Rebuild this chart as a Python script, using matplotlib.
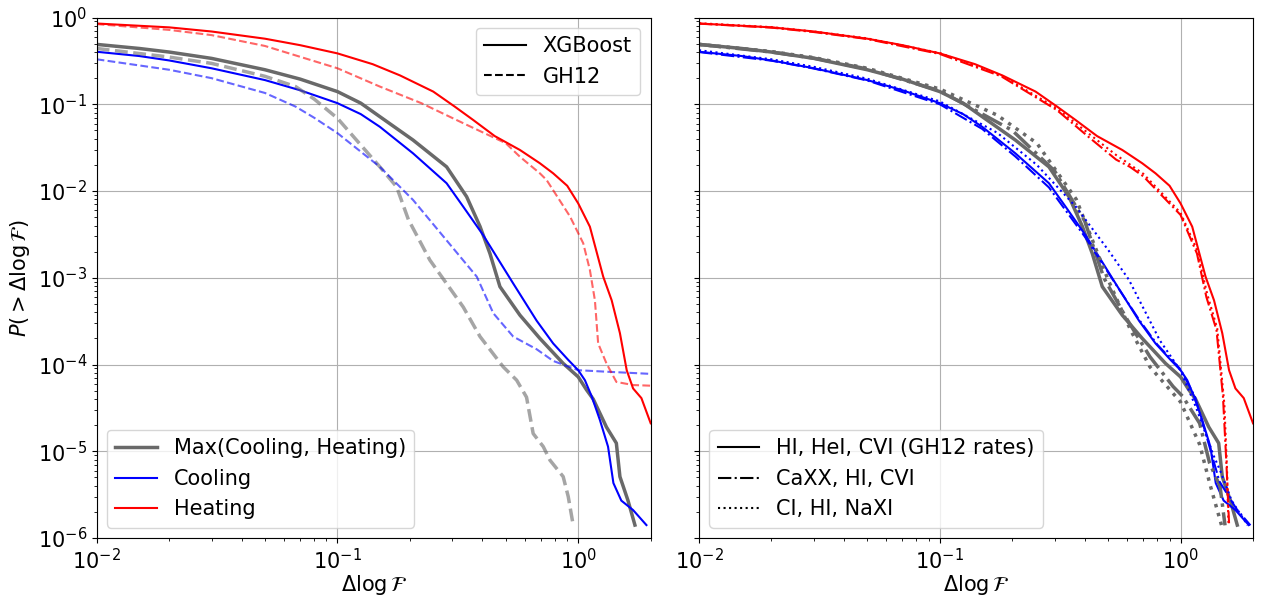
import matplotlib
matplotlib.use("Agg")
import matplotlib.pyplot as plt
from matplotlib.lines import Line2D

# ---- data ----
# XGBoost (solid), shared by both panels
max_xgb_x = [0.01, 0.015, 0.02, 0.03, 0.05, 0.07, 0.1, 0.125, 0.15, 0.206, 0.284, 0.344, 0.391, 0.43, 0.473,
             0.573, 0.693, 0.866, 1.0, 1.083, 1.154, 1.31, 1.44, 1.49, 1.61, 1.72]
max_xgb_y = [0.49, 0.44, 0.40, 0.338, 0.25, 0.195, 0.14, 0.103, 0.072, 0.0387, 0.019, 0.0086, 0.0039, 0.0019,
             7.9e-4, 3.7e-4, 2.0e-4, 1.03e-4, 7.2e-5, 5.1e-5, 4.0e-5, 1.9e-5, 1.24e-5, 5.1e-6, 2.7e-6, 1.41e-6]

cool_xgb_x = [0.01, 0.015, 0.02, 0.03, 0.05, 0.07, 0.1, 0.125, 0.15, 0.206, 0.284, 0.333, 0.403, 0.537, 0.672,
              0.787, 0.909, 1.0, 1.066, 1.137, 1.23, 1.33, 1.40, 1.51, 1.69, 1.92]
cool_xgb_y = [0.403, 0.36, 0.32, 0.26, 0.19, 0.145, 0.103, 0.077, 0.055, 0.0272, 0.0123, 0.0066, 0.0031, 8.6e-4,
              3.2e-4, 1.75e-4, 1.13e-4, 8.6e-5, 6.6e-5, 4.3e-5, 2.3e-5, 1.13e-5, 4.3e-6, 2.7e-6, 2.1e-6, 1.41e-6]

heat_xgb_x = [0.01, 0.02, 0.03, 0.05, 0.07, 0.1, 0.14, 0.182, 0.25, 0.307, 0.366, 0.45, 0.573, 0.693,
              0.787, 0.9, 1.0, 1.118, 1.27, 1.377, 1.49, 1.59, 1.69, 1.83, 2.0]
heat_xgb_y = [0.853, 0.77, 0.69, 0.57, 0.48, 0.386, 0.29, 0.215, 0.14, 0.094, 0.066, 0.043, 0.0297, 0.0209,
              0.016, 0.0115, 0.0072, 0.00388, 0.00103, 5.5e-4, 2.3e-4, 8.6e-5, 5.3e-5, 4.1e-5, 2.1e-5]

# GH12 (dashed), left panel
max_gh_x = [0.01, 0.02, 0.03, 0.05, 0.067, 0.08, 0.1, 0.15, 0.176, 0.197, 0.242, 0.333, 0.391, 0.488,
            0.555, 0.61, 0.65, 0.716, 0.763, 0.866, 0.909, 0.953]
max_gh_y = [0.44, 0.35, 0.296, 0.21, 0.16, 0.115, 0.069, 0.019, 0.0112, 0.0047, 0.0016, 4.6e-4, 2.1e-4, 9.4e-5,
            6.6e-5, 4.2e-5, 1.6e-5, 1.13e-5, 7.9e-6, 5.1e-6, 3.0e-6, 1.41e-6]

cool_gh_x = [0.01, 0.02, 0.03, 0.05, 0.067, 0.08, 0.1, 0.15, 0.206, 0.284, 0.379, 0.444, 0.537, 0.672, 0.787,
             1.0, 1.27, 2.0]
cool_gh_y = [0.33, 0.25, 0.2, 0.135, 0.094, 0.07, 0.0465, 0.019, 0.0079, 0.0027, 0.00103, 3.9e-4, 2.1e-4, 1.5e-4,
             1.1e-4, 8.6e-5, 8.3e-5, 7.8e-5]

heat_gh_x = [0.01, 0.02, 0.03, 0.05, 0.1, 0.15, 0.223, 0.333, 0.5, 0.573, 0.693, 0.739, 0.924, 1.049,
             1.118, 1.173, 1.21, 1.31, 1.44, 1.69, 2.0]
heat_gh_y = [0.84, 0.72, 0.627, 0.47, 0.26, 0.16, 0.103, 0.0605, 0.0356, 0.0248, 0.016, 0.0134, 0.0051, 0.0025,
             0.00123, 5.5e-4, 1.75e-4, 1.03e-4, 6.3e-5, 5.8e-5, 5.7e-5]

# right panel: CaXX, HI, CVI (dashdot)
max_ca_x = [0.01, 0.02, 0.03, 0.05, 0.1, 0.2, 0.3, 0.4, 0.48, 0.6, 0.746, 0.93, 1.02, 1.2, 1.32, 1.46, 1.53]
max_ca_y = [0.49, 0.40, 0.34, 0.255, 0.143, 0.05, 0.017, 0.0045, 0.001, 3.3e-4, 1.23e-4, 5.6e-5, 4.3e-5,
            2.1e-5, 7.3e-6, 3.9e-6, 1.4e-6]
cool_ca_x = [0.01, 0.02, 0.03, 0.05, 0.1, 0.15, 0.206, 0.284, 0.333, 0.403, 0.537, 0.672, 0.8, 1.0, 1.15,
             1.3, 1.45, 1.7, 1.95]
cool_ca_y = [0.40, 0.318, 0.258, 0.188, 0.1, 0.052, 0.025, 0.011, 0.006, 0.0029, 8.5e-4, 3.3e-4, 1.7e-4,
             8.8e-5, 4.2e-5, 1.3e-5, 4.5e-6, 2.2e-6, 1.4e-6]
heat_ca_x = [0.01, 0.02, 0.03, 0.05, 0.1, 0.18, 0.306, 0.415, 0.54, 0.616, 0.70, 1.0, 1.17, 1.28, 1.41,
             1.50, 1.55, 1.59]
heat_ca_y = [0.85, 0.765, 0.68, 0.565, 0.38, 0.21, 0.086, 0.042, 0.023, 0.019, 0.0148, 0.0053, 0.0019,
             6.0e-4, 2.5e-4, 4.3e-5, 7.3e-6, 1.48e-6]

# right panel: CI, HI, NaXI (dotted)
max_na_x = [0.01, 0.02, 0.03, 0.05, 0.1, 0.173, 0.253, 0.369, 0.50, 0.62, 0.746, 1.0, 1.2, 1.33, 1.48]
max_na_y = [0.49, 0.405, 0.345, 0.26, 0.15, 0.075, 0.0356, 0.008, 9.5e-4, 2.5e-4, 9.4e-5, 3.7e-5, 1.2e-5,
            4e-6, 1.4e-6]
cool_na_x = [0.01, 0.02, 0.03, 0.05, 0.1, 0.173, 0.253, 0.369, 0.5, 0.61, 0.82, 1.0, 1.16, 1.37, 1.46,
             1.63, 1.9]
cool_na_y = [0.42, 0.33, 0.27, 0.197, 0.108, 0.047, 0.02, 0.0065, 0.0021, 9.5e-4, 1.9e-4, 8.5e-5, 3.2e-5,
             9e-6, 6.0e-6, 2.7e-6, 1.4e-6]
heat_na_x = [0.01, 0.02, 0.03, 0.05, 0.1, 0.18, 0.306, 0.415, 0.54, 0.70, 1.0, 1.17, 1.29, 1.42, 1.52,
             1.56, 1.58]
heat_na_y = [0.86, 0.775, 0.69, 0.575, 0.39, 0.215, 0.09, 0.046, 0.026, 0.0158, 0.0056, 0.0021, 6.5e-4,
             2.6e-4, 3.5e-5, 6e-6, 1.5e-6]

labels_left = ["Max(Cooling, Heating)", "Cooling", "Heating"]
labels_right = ["HI, HeI, CVI (GH12 rates)", "CaXX, HI, CVI", "CI, HI, NaXI"]

plt.rcParams['font.size'] = 15

fig, (ax1, ax2) = plt.subplots(1, 2, figsize=(12.62, 5.98), dpi=100, sharey=True)
fig.subplots_adjust(left=0.0766, right=0.9929, bottom=0.1003, top=0.9707, wspace=0.0872)

gray = 'dimgray'

# left panel
ax1.plot(max_xgb_x, max_xgb_y, color=gray, lw=2.5)
ax1.plot(cool_xgb_x, cool_xgb_y, color='blue', lw=1.5)
ax1.plot(heat_xgb_x, heat_xgb_y, color='red', lw=1.5)
ax1.plot(max_gh_x, max_gh_y, color=gray, lw=2.5, ls='--', alpha=0.6)
ax1.plot(cool_gh_x, cool_gh_y, color='blue', lw=1.5, ls='--', alpha=0.6)
ax1.plot(heat_gh_x, heat_gh_y, color='red', lw=1.5, ls='--', alpha=0.6)

h_col = [Line2D([], [], color=gray, lw=2.5),
         Line2D([], [], color='blue', lw=1.5),
         Line2D([], [], color='red', lw=1.5)]
leg1 = ax1.legend(h_col, labels_left, loc='lower left', fontsize=15)
ax1.add_artist(leg1)
h_sty = [Line2D([], [], color='k', lw=1.5), Line2D([], [], color='k', lw=1.5, ls='--')]
ax1.legend(h_sty, ["XGBoost", "GH12"], loc='upper right', fontsize=15)

# right panel
for xs, ys, c, lw in [(max_xgb_x, max_xgb_y, gray, 2.5), (cool_xgb_x, cool_xgb_y, 'blue', 1.5),
                      (heat_xgb_x, heat_xgb_y, 'red', 1.5)]:
    ax2.plot(xs, ys, color=c, lw=lw)
for xs, ys, c, lw in [(max_ca_x, max_ca_y, gray, 2.5), (cool_ca_x, cool_ca_y, 'blue', 1.5),
                      (heat_ca_x, heat_ca_y, 'red', 1.5)]:
    ax2.plot(xs, ys, color=c, lw=lw, ls='-.')
for xs, ys, c, lw in [(max_na_x, max_na_y, gray, 2.5), (cool_na_x, cool_na_y, 'blue', 1.5),
                      (heat_na_x, heat_na_y, 'red', 1.5)]:
    ax2.plot(xs, ys, color=c, lw=lw, ls=':')

h_r = [Line2D([], [], color='k', lw=1.5),
       Line2D([], [], color='k', lw=1.5, ls='-.'),
       Line2D([], [], color='k', lw=1.5, ls=':')]
ax2.legend(h_r, labels_right, loc='lower left', fontsize=15)

for ax in (ax1, ax2):
    ax.set_xscale('log')
    ax.set_yscale('log')
    ax.set_xlim(1e-2, 2)
    ax.set_ylim(1e-6, 1)
    ax.grid(True)
    ax.set_xlabel(r'$\Delta\log\mathcal{F}$', fontsize=15, labelpad=0)
    ax.tick_params(labelsize=15)
ax1.set_ylabel(r'$P(>\Delta\log\mathcal{F})$', fontsize=15)

fig.savefig('out.png', dpi=100)
